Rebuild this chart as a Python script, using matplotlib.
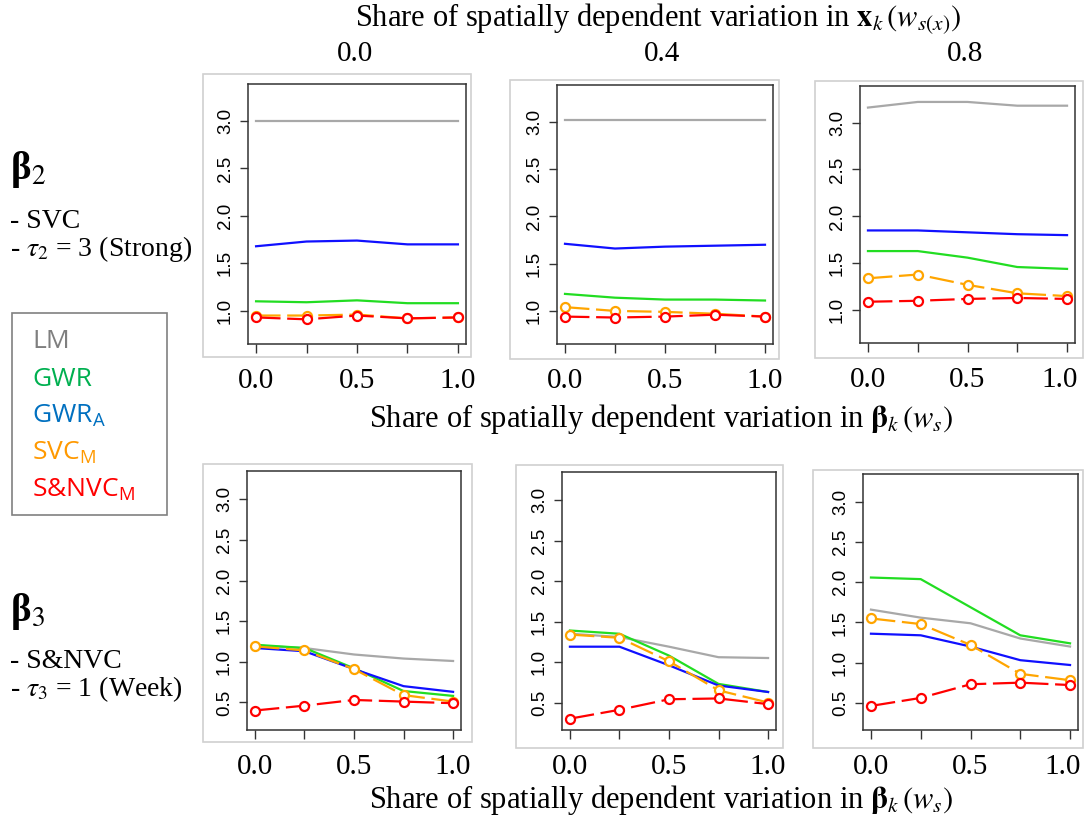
import matplotlib
matplotlib.use("Agg")
import matplotlib.pyplot as plt
from matplotlib.patches import Rectangle

plt.rcParams['mathtext.fontset'] = 'stix'

W, H = 1086, 823

# x positions of the simulated shares (w_s)
ws = [0.0, 0.25, 0.5, 0.75, 1.0]
ws_labels = ['0.0', '', '0.5', '', '1.0']
wsx_labels = ['0.0', '0.4', '0.8']

# beta_2 row (one list per column w_s(x) = 0.0, 0.4, 0.8)
lm_b2 = [[3.00, 3.00, 3.00, 3.00, 3.00],
         [3.02, 3.02, 3.02, 3.02, 3.02],
         [3.16, 3.22, 3.22, 3.18, 3.18]]
gwr_b2 = [[1.10, 1.09, 1.11, 1.08, 1.08],
          [1.18, 1.14, 1.12, 1.12, 1.11],
          [1.63, 1.63, 1.56, 1.46, 1.44]]
gwra_b2 = [[1.68, 1.73, 1.74, 1.70, 1.70],
           [1.71, 1.66, 1.68, 1.69, 1.70],
           [1.85, 1.85, 1.83, 1.81, 1.80]]
svcm_b2 = [[0.95, 0.95, 0.96, 0.92, 0.93],
           [1.04, 1.00, 0.99, 0.97, 0.94],
           [1.34, 1.38, 1.27, 1.18, 1.15]]
snvcm_b2 = [[0.93, 0.91, 0.95, 0.92, 0.93],
            [0.94, 0.93, 0.94, 0.96, 0.94],
            [1.09, 1.10, 1.12, 1.13, 1.12]]

# beta_3 row
lm_b3 = [[1.20, 1.17, 1.09, 1.04, 1.01],
         [1.35, 1.31, 1.19, 1.06, 1.05],
         [1.66, 1.56, 1.49, 1.30, 1.20]]
gwr_b3 = [[1.21, 1.17, 0.92, 0.64, 0.58],
          [1.39, 1.35, 1.08, 0.73, 0.63],
          [2.06, 2.04, 1.69, 1.34, 1.24]]
gwra_b3 = [[1.17, 1.13, 0.91, 0.70, 0.63],
           [1.19, 1.19, 0.96, 0.71, 0.63],
           [1.36, 1.34, 1.20, 1.03, 0.97]]
svcm_b3 = [[1.19, 1.14, 0.91, 0.59, 0.51],
           [1.34, 1.30, 1.01, 0.65, 0.50],
           [1.55, 1.48, 1.22, 0.86, 0.78]]
snvcm_b3 = [[0.40, 0.46, 0.53, 0.51, 0.49],
            [0.30, 0.41, 0.54, 0.55, 0.48],
            [0.46, 0.56, 0.73, 0.75, 0.72]]

models = ['LM', 'GWR', 'GWR_A', 'SVC_M', 'S&NVC_M']
line_cols = ['#a8a8a8', '#22dd22', '#1010ff', '#ffa500', '#ff0000']
legend_cols = ['#7f7f7f', '#00b050', '#0070c0', '#ff9900', '#ff0000']


def fbox(x0, y0, x1, y1):
    return [x0 / W, 1 - y1 / H, (x1 - x0) / W, (y1 - y0) / H]


fig = plt.figure(figsize=(W / 100, H / 100), dpi=100)

# pixel boxes of the inner plot regions and the outer R device frames
inner = [[(248, 84, 466, 344), (557, 85, 773, 344), (860, 86, 1075, 343)],
         [(247, 471, 461, 730), (562, 472, 776, 730), (863, 474, 1078, 730)]]
outer = [[(203, 74, 471, 357), (510, 80, 779, 359), (815, 81, 1083, 358)],
         [(203, 464, 472, 742), (516, 465, 783, 748), (813, 470, 1083, 748)]]

rows = [(lm_b2, gwr_b2, gwra_b2, svcm_b2, snvcm_b2),
        (lm_b3, gwr_b3, gwra_b3, svcm_b3, snvcm_b3)]
ylims = [(0.65, 3.39), (0.16, 3.35)]
yticks = [[1.0, 1.5, 2.0, 2.5, 3.0], [0.5, 1.0, 1.5, 2.0, 2.5, 3.0]]

for r in range(2):
    for c in range(3):
        x0, y0, x1, y1 = outer[r][c]
        fig.add_artist(Rectangle((x0 / W, 1 - y1 / H), (x1 - x0) / W, (y1 - y0) / H,
                                 transform=fig.transFigure, fill=False,
                                 ec='#d0d0d0', lw=1.2))
        ax = fig.add_axes(fbox(*inner[r][c]))
        for k, series in enumerate(rows[r]):
            y = series[c]
            if k < 3:
                ax.plot(ws, y, color=line_cols[k], lw=1.6, zorder=2 + k)
            else:
                ax.plot(ws, y, color=line_cols[k], lw=1.6, ls=(0, (11, 3)),
                        marker='o', ms=6.5, mew=1.6, mfc='white',
                        zorder=2 + k)
        ax.set_xlim(-0.04, 1.04)
        ax.set_ylim(*ylims[r])
        ax.set_yticks(yticks[r])
        ax.set_yticklabels(['%.1f' % v for v in yticks[r]],
                           rotation=90, va='center', fontsize=13.5,
                           family='Liberation Sans')
        labs = list(ws_labels)
        if c == 2:
            labs[-1] = ''
        ax.set_xticks(ws, labels=labs)
        for lab in ax.get_xticklabels():
            lab.set_fontsize(21)
            lab.set_family('Liberation Serif')
        if c == 2:
            # last big label nudged left so it stays inside the picture
            ax.annotate(ws_labels[-1], xy=(ws[-1], 0),
                        xycoords=('data', 'axes fraction'),
                        xytext=(-5, -17.5), textcoords='offset points',
                        ha='center', va='top', fontsize=21, family='Liberation Serif')
        ax.tick_params(axis='y', length=6, width=1, pad=4, color='#333333')
        ax.tick_params(axis='x', length=6.5, width=1, pad=11, color='#333333')
        for s in ax.spines.values():
            s.set_color('#333333')
            s.set_linewidth(1.1)

serif = 'Liberation Serif'
fig.text(658 / W, 1 - 19 / H,
         r'Share of spatially dependent variation in $\mathbf{x}_k\,(w_{s(x)})$',
         ha='center', va='center', fontsize=22, family=serif)
for xp, lab in zip([355, 662, 965], wsx_labels):
    fig.text(xp / W, 1 - 54 / H, lab, ha='center', va='center',
             fontsize=21, family=serif)
for yp in [419, 800]:
    fig.text(661 / W, 1 - yp / H,
             r'Share of spatially dependent variation in $\mathbf{\beta}_k\,(w_s)$',
             ha='center', va='center', fontsize=22, family=serif)

# row descriptions
fig.text(10 / W, 1 - 170 / H, r'β$_2$', ha='left', va='center',
         fontsize=28, family=serif, weight='bold')
fig.text(10 / W, 1 - 221 / H, '- SVC', ha='left', va='center',
         fontsize=20, family=serif)
fig.text(10 / W, 1 - 249 / H, r'- $\tau_2$ = 3 (Strong)', ha='left', va='center',
         fontsize=20, family=serif)
fig.text(10 / W, 1 - 612 / H, r'β$_3$', ha='left', va='center',
         fontsize=28, family=serif, weight='bold')
fig.text(10 / W, 1 - 661 / H, '- S&NVC', ha='left', va='center',
         fontsize=20, family=serif)
fig.text(10 / W, 1 - 689 / H, r'- $\tau_3$ = 1 (Week)', ha='left', va='center',
         fontsize=20, family=serif)

# legend box
fig.add_artist(Rectangle((12 / W, 1 - 515 / H), 155 / W, 202 / H,
                         transform=fig.transFigure, fill=False,
                         ec='#808080', lw=1.2))
legend_txt = [r'LM', r'GWR', r'GWR$\mathregular{_A}$', r'SVC$\mathregular{_M}$',
              r'S&NVC$\mathregular{_M}$']
for i, (t, col) in enumerate(zip(legend_txt, legend_cols)):
    fig.text(32 / W, 1 - (342 + 37 * i) / H, t, ha='left', va='center',
             fontsize=19, color=col, family='Open Sans')

fig.savefig('out.png', dpi=100)
